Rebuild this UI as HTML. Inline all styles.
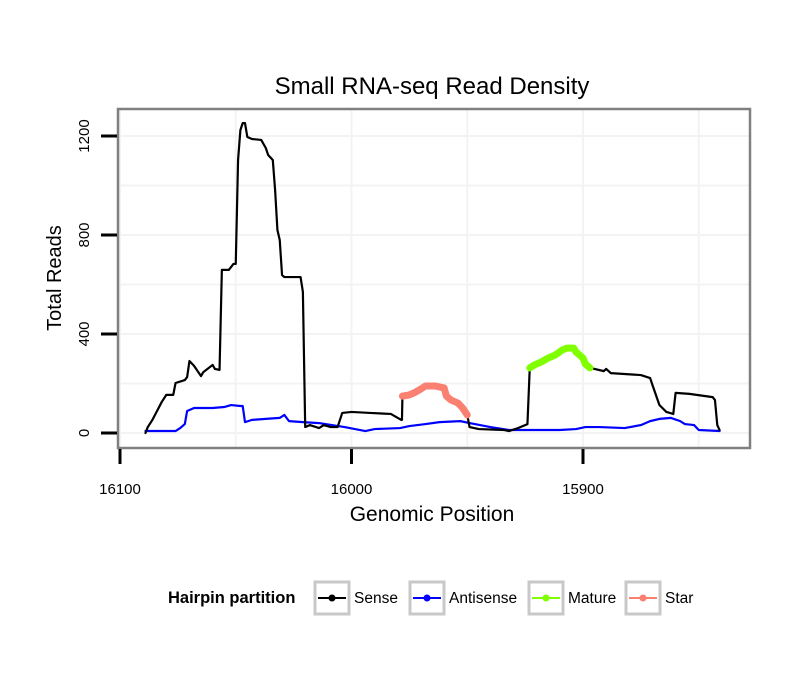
<!DOCTYPE html>
<html><head><meta charset="utf-8"><style>
html,body{margin:0;padding:0;background:#fff;}
svg text{font-family:"Liberation Sans",sans-serif;}
</style></head><body>
<svg id="chart" width="810" height="690" viewBox="0 0 810 690" xmlns="http://www.w3.org/2000/svg">
<rect x="0" y="0" width="810" height="690" fill="#fff"/>
<text x="432" y="94" font-size="24" text-anchor="middle">Small RNA-seq Read Density</text>
<g id="grid"></g>
<g id="series"></g>
<rect x="118" y="109" width="632" height="339" fill="none" stroke="#808080" stroke-width="2.5"/>
<g id="axes"></g>
<text x="432" y="521" font-size="21" text-anchor="middle">Genomic Position</text>
<text x="61" y="278" font-size="20" text-anchor="middle" transform="rotate(-90 61 278)">Total Reads</text>
<g id="legend">
<text x="168" y="603" font-size="16.5" font-weight="bold">Hairpin partition</text>
</g>
</svg>
<script>
const xTicks=[16100,16000,15900];
const xMinor=[16050,15950,15850];
const yTicks=[0,400,800,1200];
const yMinor=[200,600,1000];
const senseX=[16089,16088,16086,16084,16082,16080,16077,16076,16072,16071,16070,16068,16065,16064,16060,16059,16057,16056,16053,16051,16050,16049,16048,16047,16046,16045,16043,16039,16037,16036,16034,16033,16032,16031,16030,16029,16022,16021,16020,16019,16018,16014,16012,16009,16006,16004,16000,15992,15983,15980,15978.5,15978.2,15949,15945,15934,15932,15928,15925,15924,15895,15891,15890,15888,15875,15871,15870,15867,15864,15861,15860,15854,15844,15843,15842,15841];
const senseY=[0,24,53,89,125,154,154,202,214,226,291,271,230,246,275,259,255,659,659,683,683,1103,1224,1252,1252,1196,1188,1184,1151,1123,1103,982,820,780,638,630,630,570,24,28,32,20,32,24,24,81,85,81,77,61,53,53,24,16,12,8,20,32,36,259,250,259,242,234,222,194,113,85,77,162,158,145,133,32,12];
const starX=[15978,15975,15973,15970,15968,15964,15960,15959,15957,15954,15952,15950];
const starY=[149,154,162,178,190,190,182,149,133,121,101,73];
const matureX=[15923,15921,15918,15915,15912,15909,15907,15904,15903,15900,15899,15897];
const matureY=[263,275,287,303,315,335,343,343,327,303,279,263];
const antiX=[16089,16076,16074,16072,16071,16068,16060,16055,16052,16048,16047,16046,16043,16037,16031,16029,16027,16021,16014,16003,15994,15990,15979,15975,15968,15962,15953,15949,15940,15932,15910,15903,15899,15893,15882,15875,15871,15867,15862,15858,15856,15852,15850,15841];
const antiY=[8,8,20,36,89,101,101,105,113,109,109,44,53,57,61,73,48,44,40,24,8,16,20,28,36,44,48,40,24,12,12,16,24,24,20,32,48,57,61,48,36,32,12,8];
const legendLabels=["Sense","Antisense","Mature","Star"];
const legendColors=["#000000","#0000ff","#7fff00","#fa8072"];

const NS="http://www.w3.org/2000/svg";
const xs=v=>120+(16100-v)*2.315;
const ys=v=>433-v*0.2475;
function mk(tag,attrs,parent){const e=document.createElementNS(NS,tag);for(const k in attrs)e.setAttribute(k,attrs[k]);parent.appendChild(e);return e;}
const grid=document.getElementById('grid'),axes=document.getElementById('axes'),ser=document.getElementById('series'),leg=document.getElementById('legend');
xMinor.concat(xTicks).forEach(v=>{const l=mk('line',{x1:xs(v),x2:xs(v),y1:109,y2:448,stroke:'#f3f3f3','stroke-width':2},grid);

});
yMinor.concat(yTicks).forEach(v=>{const l=mk('line',{x1:118,x2:750,y1:ys(v),y2:ys(v),stroke:'#f3f3f3','stroke-width':2},grid);

});
xTicks.forEach(v=>{const t=mk('line',{x1:xs(v),x2:xs(v),y1:449,y2:464,stroke:'#000','stroke-width':3},axes);


const tx=mk('text',{x:xs(v),y:494,'font-size':15,'text-anchor':'middle'},axes);tx.textContent=v;

});
yTicks.forEach(v=>{const t=mk('line',{x1:101,x2:117,y1:ys(v),y2:ys(v),stroke:'#000','stroke-width':3},axes);


const tx=mk('text',{x:89,y:ys(v),'font-size':15,'text-anchor':'middle',transform:`rotate(-90 89 ${ys(v)})`},axes);tx.textContent=v;

});
function pts(X,Y){return X.map((x,i)=>[x,Y[i]]);}
function line(P,color,w,name){const p=mk('polyline',{points:P.map(q=>xs(q[0])+','+ys(q[1])).join(' '),fill:'none',stroke:color,'stroke-width':w,'stroke-linejoin':'round','stroke-linecap':'round'},ser);

}
line(pts(antiX,antiY),'#0000ff',2.2,'antisense-line');
const allSense=pts(senseX,senseY).concat(pts(starX,starY),pts(matureX,matureY)).sort((a,b)=>b[0]-a[0]);
line(allSense,'#000',2.2,'sense-line');
line(pts(starX,starY),'#fa8072',7,'star-line');
line(pts(matureX,matureY),'#7fff00',7,'mature-line');
let lx=[313,408,527,624];
legendLabels.forEach((lab,i)=>{const x=lx[i];
const g=mk('g',{},leg);


mk('rect',{x:x+2,y:582,width:34,height:32,fill:'#fff',stroke:'#c8c8c8','stroke-width':3},g);
mk('line',{x1:x+5,x2:x+33,y1:598,y2:598,stroke:legendColors[i],'stroke-width':2},g);
mk('circle',{cx:x+19,cy:598,r:3.5,fill:legendColors[i]},g);
const t=mk('text',{x:x+41,y:603,'font-size':15.5},g);t.textContent=lab;});
</script>
</body></html>
